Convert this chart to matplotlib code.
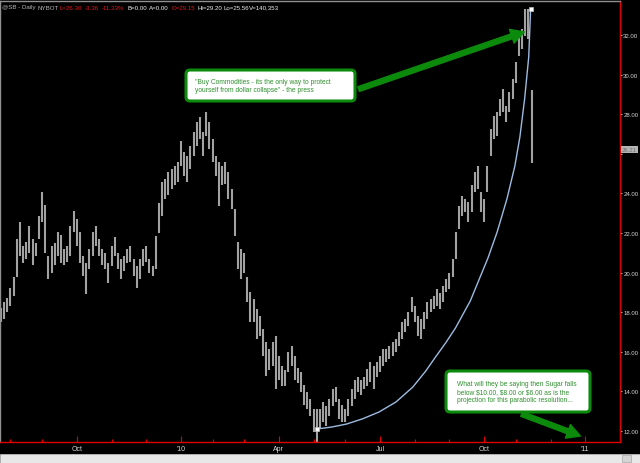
import numpy as np
import pandas as pd
import matplotlib
matplotlib.use('Agg')
import matplotlib.pyplot as plt
from matplotlib.patches import FancyBboxPatch, FancyArrowPatch, Rectangle
from matplotlib.transforms import IdentityTransform

plt.rcParams['font.family'] = ['Liberation Sans', 'DejaVu Sans']

# 数据：每两个交易日一根K线（高/低）
start_date = '2009-07-27'
holidays = ['2009-12-25', '2010-01-01', '2010-04-02', '2010-07-05', '2010-12-24']

highs = [18.2, 18.5, 18.7, 19.2, 19.8, 21.7, 22.55, 21.35, 21.55, 22.35,
         21.7, 21.5, 22.85, 24.05, 23.4, 20.85, 21.35, 21.5, 22.05, 21.9,
         21.2, 21.35, 22.35, 23.1, 22.7, 22.05, 20.85, 20.5, 21.2, 22.05,
         22.35, 21.7, 21.2, 21.0, 20.5, 21.35, 21.8, 21.0, 20.7, 20.85,
         21.2, 21.35, 20.7, 20.35, 20.7, 21.2, 21.35, 20.7, 20.35, 21.85,
         23.5, 24.6, 24.75, 25.1, 25.25, 25.4, 25.6, 26.65, 26.1, 25.9,
         26.4, 27.1, 27.6, 27.85, 27.1, 28.1, 27.6, 26.75, 25.9, 25.6,
         25.4, 25.6, 25.1, 24.2, 23.2, 21.55, 21.2, 21.0, 19.8, 19.0,
         18.65, 18.15, 17.8, 17.15, 16.5, 16.15, 16.5, 16.8, 15.8, 15.3,
         15.1, 16.0, 16.3, 15.8, 15.2, 15.0, 14.3, 13.95, 13.6, 13.1,
         13.1, 13.1, 13.45, 13.25, 13.6, 14.1, 14.2, 13.6, 13.3, 13.1,
         13.6, 14.1, 14.6, 14.75, 14.6, 14.75, 15.15, 15.5, 15.3, 15.5,
         15.8, 16.15, 16.15, 16.3, 16.5, 16.65, 17.0, 17.5, 17.65, 18.0,
         18.75, 18.3, 17.8, 17.65, 18.0, 18.5, 18.65, 18.8, 19.15, 18.95,
         19.3, 19.7, 20.0, 20.7, 22.05, 23.35, 23.85, 23.7, 23.55, 24.4,
         25.1, 25.4, 24.05, 23.7, 25.4, 27.25, 27.9, 28.1, 28.75, 29.25,
         28.4, 29.1, 29.8, 30.65, 32.15, 32.3, 33.3, 33.3, 29.2]

lows = [17.5, 17.65, 18.0, 18.3, 18.8, 19.8, 20.85, 20.5, 20.7, 21.0,
        20.4, 20.85, 21.7, 22.55, 21.0, 19.7, 20.0, 20.4, 20.85, 20.5,
        20.4, 20.55, 20.85, 22.05, 21.35, 20.5, 19.85, 18.9, 20.2, 20.85,
        21.35, 20.85, 20.4, 20.2, 19.5, 20.35, 20.85, 20.2, 19.7, 20.1,
        20.5, 20.55, 19.85, 19.2, 19.7, 20.35, 20.55, 20.0, 19.85, 20.2,
        22.0, 22.85, 23.7, 23.9, 24.2, 24.4, 24.6, 25.4, 24.9, 24.6,
        25.25, 25.9, 26.4, 26.75, 25.9, 26.9, 26.25, 25.6, 24.9, 23.35,
        24.4, 24.5, 23.7, 23.2, 21.85, 20.2, 19.7, 20.0, 18.5, 17.5,
        17.5, 16.65, 16.8, 15.8, 14.8, 15.1, 15.3, 14.1, 14.6, 14.25,
        14.25, 15.0, 15.3, 14.6, 14.4, 13.95, 13.3, 13.1, 12.75, 11.95,
        11.45, 12.1, 12.45, 12.25, 12.75, 13.25, 13.45, 12.6, 12.45, 12.45,
        12.75, 13.25, 13.6, 13.95, 13.8, 14.1, 14.25, 14.5, 14.1, 14.75,
        15.0, 15.3, 15.5, 15.65, 15.8, 16.0, 16.3, 16.65, 17.0, 17.3,
        18.0, 17.5, 16.8, 16.65, 17.15, 17.65, 18.0, 18.15, 18.3, 18.15,
        18.5, 19.0, 19.15, 19.8, 20.7, 22.2, 22.85, 23.05, 22.55, 23.05,
        24.05, 24.2, 23.05, 22.55, 24.05, 25.9, 26.75, 26.9, 27.9, 28.1,
        27.6, 28.1, 28.75, 29.6, 30.95, 31.3, 31.95, 31.8, 25.56]

# 抛物线（位置=K线序号，价格）
curve_idx = [100.0, 104.7, 109.4, 114.4, 119.7, 125.1, 130.4, 134.5, 137.6, 140.8,
             143.9, 148.6, 154.2, 157.1, 160.2, 162.7, 164.3, 165.8, 167.1, 167.7]
curve_price = [12.10, 12.20, 12.35, 12.61, 12.96, 13.47, 14.22, 15.03, 15.74, 16.45,
               17.20, 18.57, 20.74, 22.05, 23.72, 25.38, 26.85, 28.77, 30.89, 33.31]

last_value = 26.21
yticks = [12, 14, 16, 18, 20, 22, 24, 26, 28, 30, 32]
quarter_labels = {(2009, 10): 'Oct', (2010, 1): "'10", (2010, 4): 'Apr',
                  (2010, 7): 'Jul', (2010, 10): 'Oct', (2011, 1): "'11"}

header = [('@SB - Daily', '#b8b8b8', 2), ('NYBOT', '#b8b8b8', 37),
          ('L=26.30', '#e01818', 59), ('-3.36', '#e01818', 85),
          ('-11.33%', '#e01818', 102), ('B=0.00', '#f0f0f0', 127),
          ('A=0.00', '#f0f0f0', 149), ('O=29.15', '#e01818', 172),
          ('Hi=29.20', '#f0f0f0', 197), ('Lo=25.56', '#f0f0f0', 223),
          ('V=140,353', '#f0f0f0', 249)]

note1 = '"Buy Commodities - its the only way to protect\nyourself from dollar collapse" - the press'
note2 = ('What will they be saying then Sugar falls\nbelow $10.00, $8.00 or $6.00 as is the\n'
         'projection for this parabolic resolution...')

W, H = 640, 464
fig = plt.figure(figsize=(6.4, 4.64), dpi=100, facecolor='black')
ax = fig.add_axes([0, 21 / H, 620 / W, 441 / H])
ax.set_facecolor('black')

# K线
idx = np.arange(len(highs))
ax.vlines(idx, lows, highs, color='#a2a2a2', lw=1.5)

# 抛物线和端点
ax.plot(curve_idx, curve_price, color='#9cbbe0', lw=1.0)
ax.plot([curve_idx[0], curve_idx[-1]], [curve_price[0], curve_price[-1]], 's',
        ms=3.5, mfc='white', mec='#c0c0c0', mew=0.5, ls='none')

ax.set_xlim(-0.31, 194.0)
ax.set_ylim(32 - 407 / 19.8, 32 + 34 / 19.8)

# 时间轴
cbd = pd.offsets.CustomBusinessDay(n=2, holidays=holidays)
dates = pd.date_range(start_date, periods=220, freq=cbd)
months = pd.date_range('2009-08-01', '2011-02-01', freq='MS')
month_pos = np.searchsorted(dates.values, months.values)
major_pos = [p for p, m in zip(month_pos, months) if (m.year, m.month) in quarter_labels]
major_lab = [quarter_labels[(m.year, m.month)] for m in months if (m.year, m.month) in quarter_labels]
ax.set_xticks(major_pos)
ax.set_xticklabels(major_lab)
ax.set_xticks(month_pos, minor=True)
ax.tick_params(axis='x', which='both', direction='in', colors='#d8d8d8', labelsize=5, pad=2)
ax.tick_params(axis='x', which='major', color='#e00000', length=4, width=0.8)
ax.tick_params(axis='x', which='minor', color='#e00000', length=2.5, width=0.8)

# 右侧价格轴（26.00 被最新价标签盖住）
ax.yaxis.tick_right()
ax.set_yticks(yticks)
ax.set_yticklabels(['' if v == 26 else f'{v:.2f}' for v in yticks])
ax.tick_params(axis='y', colors='#d8d8d8', labelsize=4.3, length=1.5, width=0.6, pad=0.8)

for s in ['right', 'bottom']:
    ax.spines[s].set_color('#e00000')
    ax.spines[s].set_linewidth(1.0)
for s in ['left', 'top']:
    ax.spines[s].set_color('#909090')
    ax.spines[s].set_linewidth(1.0)

ax.text(1.003, last_value, f'{last_value:.2f}', transform=ax.get_yaxis_transform(),
        ha='left', va='center', fontsize=4.3, color='#707070',
        bbox=dict(boxstyle='square,pad=0.2', fc='#b4b4b4', ec='none'))

# 顶部行情文字
for txt, col, x in header:
    fig.text(x / W, 1 - 8 / H, txt, color=col, fontsize=4.4, ha='left', va='center')

# 注释框和箭头（像素坐标）
px = IdentityTransform()
green = '#0c8a0c'
box1 = FancyBboxPatch((186, H - 102), 169, 31, boxstyle='round,pad=0,rounding_size=4',
                      fc='white', ec=green, lw=2.2, transform=px)
box2 = FancyBboxPatch((446, H - 413), 144, 41, boxstyle='round,pad=0,rounding_size=4',
                      fc='white', ec=green, lw=2.2, transform=px)
fig.patches.extend([box1, box2])
fig.text(195 / W, 1 - 86.5 / H, note1, color='#2f8f2f', fontsize=4.75, ha='left', va='center',
         linespacing=1.3)
fig.text(457 / W, 1 - 392.5 / H, note2, color='#2f8f2f', fontsize=4.75, ha='left', va='center',
         linespacing=1.3)

arrow_style = 'simple,head_width=1.3,head_length=1.2,tail_width=0.45'
arr1 = FancyArrowPatch((356, H - 91), (527, H - 32), arrowstyle=arrow_style,
                       mutation_scale=8, color=green, transform=px)
arr2 = FancyArrowPatch((519, H - 414), (583, H - 438), arrowstyle=arrow_style,
                       mutation_scale=8, color=green, transform=px)
fig.patches.extend([arr1, arr2])

# 底部滚动条
fig.patches.append(Rectangle((0, 0), W, 9, fc='#e8e8e8', ec='#c8c8c8', lw=0.5, transform=px))
fig.patches.append(Rectangle((622, 1), 9, 7, fc='#d4d4d4', ec='#a8a8a8', lw=0.5, transform=px))

fig.savefig('out.png', dpi=100, facecolor='black')
